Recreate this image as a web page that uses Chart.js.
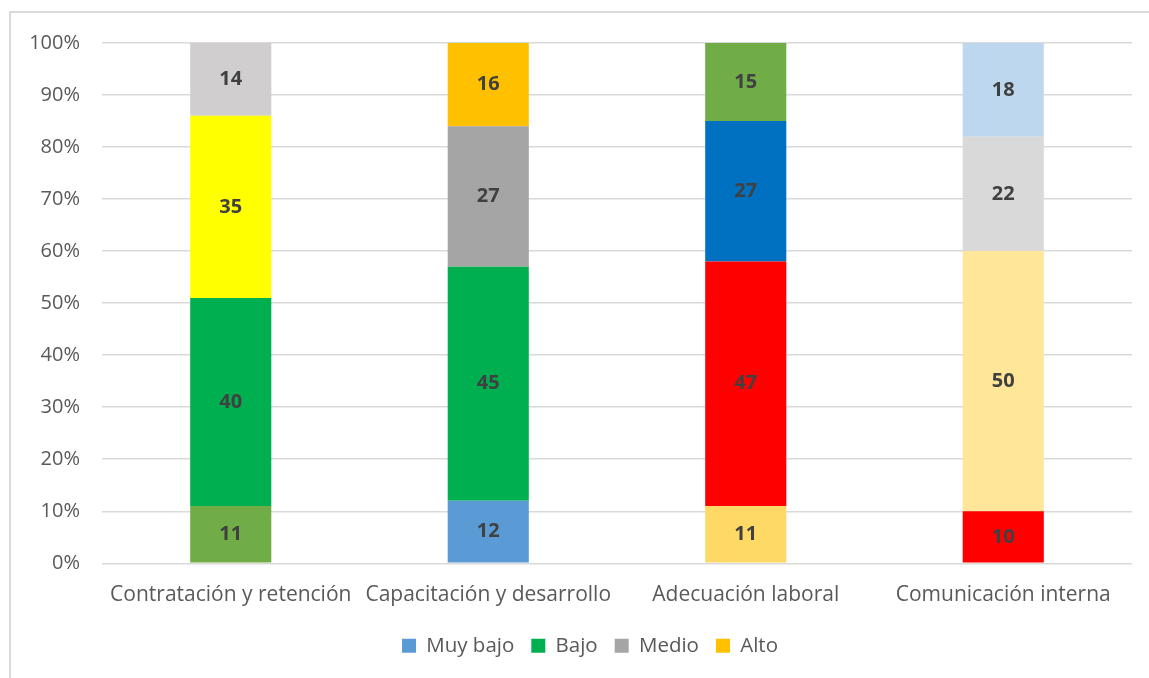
<!DOCTYPE html>
<html>
<head>
<meta charset="utf-8">
<script src="https://cdn.jsdelivr.net/npm/chart.js@4.4.1/dist/chart.umd.min.js"></script>
<style>
  html, body { margin: 0; padding: 0; background: #fff; overflow: hidden; }
  .frame { position: absolute; left: 9px; top: 11px; width: 1200px; height: 720px; border: 2px solid #d9d9d9; }
  .wrap { position: absolute; left: 0; top: 0; width: 1149px; height: 678px; }
</style>
</head>
<body>
<div class="frame"></div>
<div class="wrap"><canvas id="nivelesChart"></canvas></div>
<script>
const categories = ['Contratación y retención', 'Capacitación y desarrollo', 'Adecuación laboral', 'Comunicación interna'];
const seriesNames = ['Muy bajo', 'Bajo', 'Medio', 'Alto'];
const muyBajo = [11, 12, 11, 10];
const bajo = [40, 45, 47, 50];
const medio = [35, 27, 27, 22];
const alto = [14, 16, 15, 18];
const yTicks = [0, 10, 20, 30, 40, 50, 60, 70, 80, 90, 100];

// colours of the legend swatches
const legendColors = ['#5B9BD5', '#00B050', '#A5A5A5', '#FFC000'];
// each bar segment was recoloured by hand in the original
const muyBajoColors = ['#70AD47', '#5B9BD5', '#FFD966', '#FF0000'];
const bajoColors = ['#00B050', '#00B050', '#FF0000', '#FFE699'];
const medioColors = ['#FFFF00', '#A5A5A5', '#0070C0', '#D9D9D9'];
const altoColors = ['#D0CECE', '#FFC000', '#70AD47', '#BDD7EE'];

const FONT = '"Open Sans", "Noto Sans", sans-serif';

const valueLabels = {
  id: 'valueLabels',
  afterDatasetsDraw(chart) {
    const c = chart.ctx;
    c.save();
    c.font = 'bold 20px ' + FONT;
    c.fillStyle = '#404040';
    c.textAlign = 'center';
    c.textBaseline = 'middle';
    chart.data.datasets.forEach((ds, i) => {
      const meta = chart.getDatasetMeta(i);
      if (meta.hidden) return;
      meta.data.forEach((bar, j) => {
        c.fillText(ds.data[j], bar.x, (bar.y + bar.base) / 2);
      });
    });
    c.restore();
  }
};

// nudge the legend a bit right, like the original
const legendShift = {
  id: 'legendShift',
  afterLayout(chart) {
    if (!chart.legend) return;
    chart.legend.left += 19;
    chart.legend.right += 19;
  }
};

const ctx = document.getElementById('nivelesChart').getContext('2d');
const nivelesChart = new Chart(ctx, {
  type: 'bar',
  data: {
    labels: categories,
    datasets: [
      { label: seriesNames[0], data: muyBajo, backgroundColor: muyBajoColors },
      { label: seriesNames[1], data: bajo, backgroundColor: bajoColors },
      { label: seriesNames[2], data: medio, backgroundColor: medioColors },
      { label: seriesNames[3], data: alto, backgroundColor: altoColors }
    ]
  },
  options: {
    responsive: true,
    maintainAspectRatio: false,
    animation: false,
    layout: { padding: { top: 43, left: 10, right: 17, bottom: 12 } },
    datasets: { bar: { categoryPercentage: 0.63, barPercentage: 0.5 } },
    plugins: {
      legend: {
        position: 'bottom',
        labels: {
          font: { family: FONT, size: 20.5 },
          color: '#595959',
          boxWidth: 14,
          boxHeight: 14,
          padding: 17,
          generateLabels(chart) {
            return chart.data.datasets.map((ds, i) => ({
              text: ds.label,
              fillStyle: legendColors[i],
              strokeStyle: legendColors[i],
              lineWidth: 0,
              fontColor: '#595959',
              hidden: !chart.isDatasetVisible(i),
              datasetIndex: i
            }));
          }
        }
      },
      tooltip: { enabled: false }
    },
    scales: {
      x: {
        stacked: true,
        grid: { display: false },
        border: { display: false },
        ticks: { font: { family: FONT, size: 21 }, color: '#595959', padding: 11, maxRotation: 0 }
      },
      y: {
        stacked: true,
        min: 0,
        max: 100,
        afterBuildTicks(scale) { scale.ticks = yTicks.map(v => ({ value: v })); },
        afterFit(scale) { scale.width = 92; },
        grid: { color: '#D9D9D9', lineWidth: 1.5, drawTicks: false },
        border: { display: false },
        ticks: {
          font: { family: FONT, size: 20 },
          color: '#595959',
          padding: 22,
          callback: v => v + '%'
        }
      }
    }
  },
  plugins: [valueLabels, legendShift]
});
</script>
</body>
</html>
